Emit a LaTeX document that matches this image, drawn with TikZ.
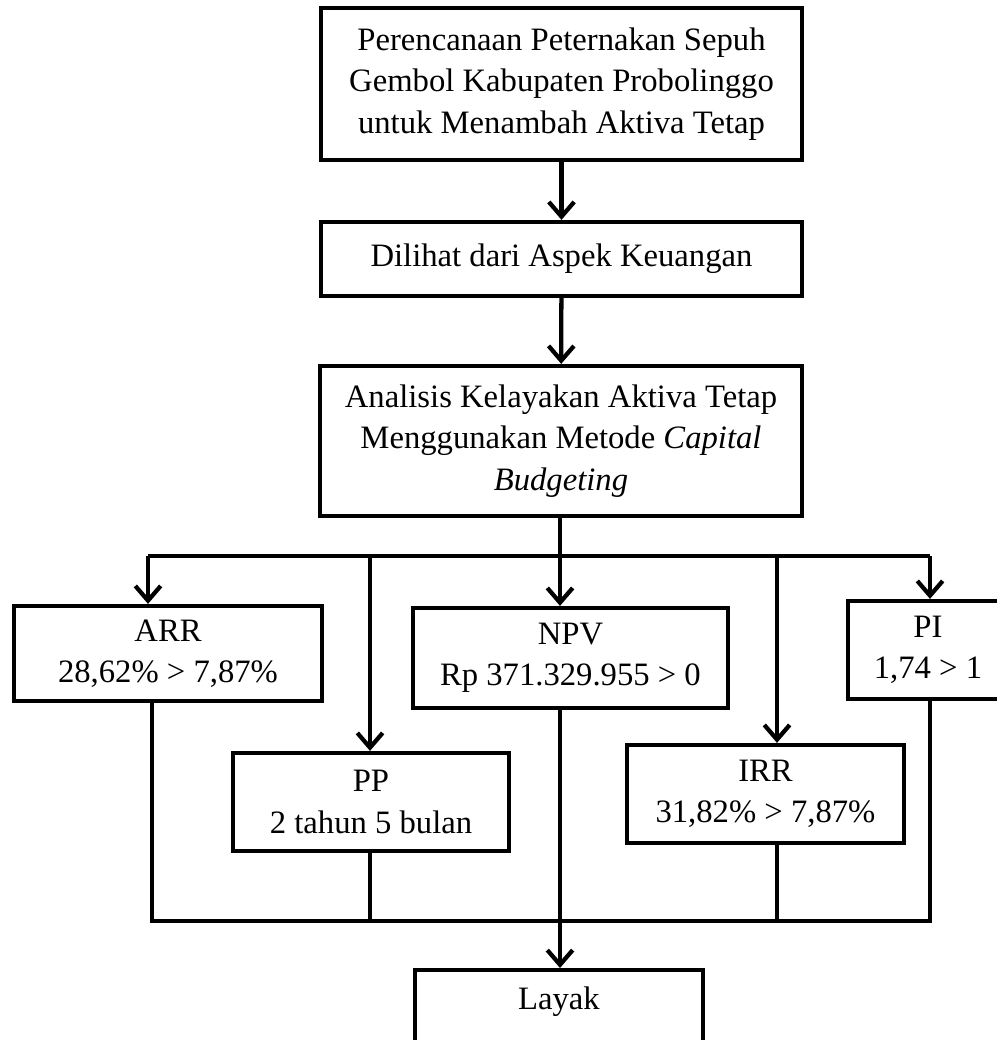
\documentclass[tikz,border=0pt]{standalone}
\usepackage{fontspec}
\setmainfont{Liberation Serif}
\usetikzlibrary{arrows.meta}
\begin{document}
\begin{tikzpicture}[x=0.75pt,y=-0.75pt,
  txt/.style={font=\fontsize{24.5}{31}\selectfont},
  box/.style={draw, line width=3.2pt, align=center, inner sep=0pt, txt},
  ln/.style={line width=3.2pt, line join=miter},
  arr/.style={ln, -{Straight Barb[length=11pt,width=19pt]}}]
\useasboundingbox (0,0) rectangle (997,1040);
\clip (0,0) rectangle (997,1040);
% main column
\node[box, minimum width=481*0.75pt, minimum height=152*0.75pt] (top) at (561.5,84)
  {Perencanaan Peternakan Sepuh\\Gembol Kabupaten Probolinggo\\untuk Menambah Aktiva Tetap};
\node[box, minimum width=481*0.75pt, minimum height=74*0.75pt] (dilihat) at (561.5,259)
  {Dilihat dari Aspek Keuangan};
\node[box, minimum width=482*0.75pt, minimum height=150*0.75pt] (analisis) at (561,441)
  {Analisis Kelayakan Aktiva Tetap\\Menggunakan Metode \textit{Capital}\\\textit{Budgeting}};
% criteria
\node[box, minimum width=308*0.75pt, minimum height=95*0.75pt] (arr) at (168,653.5)
  {ARR\\28,62\% > 7,87\%};
\node[box, minimum width=315*0.75pt, minimum height=100*0.75pt] (npv) at (570.5,658)
  {NPV\\Rp 371.329.955 > 0};
\node[box, minimum width=160*0.75pt, minimum height=98*0.75pt] (pi) at (928,650)
  {PI\\1,74 > 1};
\node[box, minimum width=276*0.75pt, minimum height=98*0.75pt] (pp) at (371,802)
  {PP\\2 tahun 5 bulan};
\node[box, minimum width=277*0.75pt, minimum height=98*0.75pt] (irr) at (765.5,794)
  {IRR\\31,82\% > 7,87\%};
\node[box, anchor=north, minimum width=288*0.75pt, minimum height=130*0.75pt,
  label={[txt, anchor=center, yshift=-25.5pt]north:Layak}] (layak) at (559,968) {};
% branch coordinates
\coordinate (bA) at (148,556);
\coordinate (bP) at (370,556);
\coordinate (bN) at (560,556);
\coordinate (bI) at (777,556);
\coordinate (bR) at (930,556);
\coordinate (cA) at (152,921);
\coordinate (cP) at (370,921);
\coordinate (cN) at (560,921);
\coordinate (cI) at (777,921);
\coordinate (cR) at (930,921);
% connectors
\draw[arr] (top) -- (dilihat);
\draw[arr] (dilihat) -- (analisis);
\draw[ln] (bA) -- (bR);
\draw[arr] (analisis.south -| bN) -- (bN |- npv.north);
\draw[arr] (bA) -- (bA |- arr.north);
\draw[arr] (bP) -- (bP |- pp.north);
\draw[arr] (bI) -- (bI |- irr.north);
\draw[arr] (bR) -- (bR |- pi.north);
\draw[ln] (cA |- arr.south) -- (cA) -- (cR) -- (cR |- pi.south);
\draw[ln] (cP |- pp.south) -- (cP);
\draw[ln] (cI |- irr.south) -- (cI);
\draw[arr] (cN |- npv.south) -- (cN |- layak.north);
\end{tikzpicture}
\end{document}
